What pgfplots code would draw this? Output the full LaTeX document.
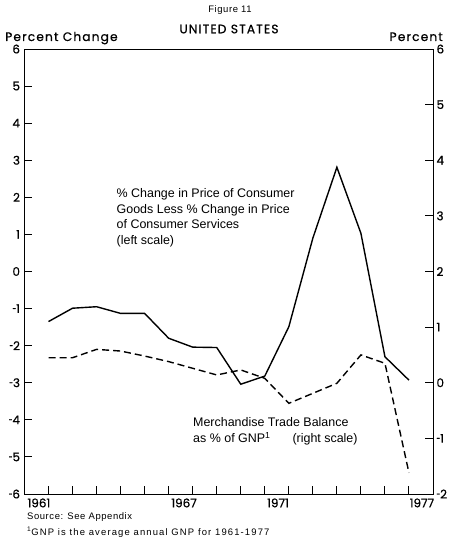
\documentclass[border=0pt]{standalone}
\usepackage{fontspec}
\setmainfont{Liberation Sans}
\newfontfamily\futura[FakeBold=0.6, LetterSpace=9]{Poppins}
\newfontfamily\futurad[FakeBold=0.6]{Poppins}
\newfontfamily\smallsans[LetterSpace=6]{Liberation Sans}
\newfontfamily\footsans[LetterSpace=12]{Liberation Sans}
\usepackage{pgfplots}
\pgfplotsset{compat=1.18}
\newcommand{\hy}{\scalebox{0.55}[1]{-}}
\begin{document}
\begin{tikzpicture}
\useasboundingbox (0bp,0bp) rectangle (450bp,543bp);
% left scale axis with solid series
\begin{axis}[
  at={(24.5bp,49bp)}, anchor=south west,
  scale only axis, width=408.5bp, height=445bp,
  xmin=1960, xmax=1977, ymin=-6, ymax=6,
  axis line style={line width=0.9bp},
  xtick={1961,...,1976}, xticklabels={},
  ytick={-6,...,6},
  yticklabels={\mbox{\hy6},\mbox{\hy5},\mbox{\hy4},\mbox{\hy3},\mbox{\hy2},\mbox{\hy1},\mbox{0},\mbox{1},\mbox{2},\mbox{3},\mbox{4},\mbox{5},\mbox{6}},
  xtick pos=bottom, ytick pos=left,
  tick align=inside,
  major tick length=8bp,
  tick style={line width=0.9bp, black},
  yticklabel style={font=\futurad\fontsize{12}{12}\selectfont, anchor=east, xshift=-1bp},
  clip=false,
]
\addplot[black, line width=1.4bp, mark=none] coordinates {
 (1961,-1.35) (1962,-0.99) (1963,-0.95) (1964,-1.13) (1965,-1.13)
 (1966,-1.80) (1967,-2.04) (1968,-2.05) (1969,-3.04) (1970,-2.82)
 (1971,-1.49) (1972,0.90) (1973,2.81) (1974,1.03) (1975,-2.30) (1976,-2.93)
};
\node[inner sep=0, font=\futurad\fontsize{12}{12}\selectfont] at (axis cs:1960.6,-6.24) {1961};
\node[inner sep=0, font=\futurad\fontsize{12}{12}\selectfont] at (axis cs:1966.64,-6.24) {1967};
\node[inner sep=0, font=\futurad\fontsize{12}{12}\selectfont] at (axis cs:1970.55,-6.24) {1971};
\node[inner sep=0, font=\futurad\fontsize{12}{12}\selectfont] at (axis cs:1976.54,-6.24) {1977};
\end{axis}
% right scale axis with dashed series
\begin{axis}[
  at={(24.5bp,49bp)}, anchor=south west,
  scale only axis, width=408.5bp, height=445bp,
  xmin=1960, xmax=1977, ymin=-2, ymax=6,
  axis x line=none, axis y line*=right,
  axis line style={line width=0.9bp},
  ytick={-2,...,6},
  yticklabels={\mbox{\hy2},\mbox{\hy1},\mbox{0},\mbox{1},\mbox{2},\mbox{3},\mbox{4},\mbox{5},\mbox{6}},
  tick align=inside,
  major tick length=8bp,
  tick style={line width=0.9bp, black},
  yticklabel style={font=\futurad\fontsize{12}{12}\selectfont, anchor=west, xshift=0bp},
  clip=false,
]
\addplot[black, line width=1.4bp, mark=none, dash pattern=on 7bp off 4bp] coordinates {
 (1961,0.45) (1962,0.45) (1963,0.60) (1964,0.57) (1965,0.48)
 (1966,0.38) (1967,0.26) (1968,0.14) (1969,0.23) (1970,0.08)
 (1971,-0.37) (1972,-0.19) (1973,-0.01) (1974,0.50) (1975,0.35) (1976,-1.62)
};
\end{axis}
% titles and labels
\node[font=\smallsans\fontsize{9.5}{10}\selectfont] at (230bp,533bp) {Figure 11};
\node[font=\futura\fontsize{12.3}{12}\selectfont] at (229bp,514bp) {UNITED STATES};
\node[font=\futura\fontsize{12.3}{12}\selectfont, anchor=base west, inner sep=0] at (5bp,502bp) {Percent Change};
\node[font=\futura\fontsize{12.3}{12}\selectfont, anchor=base east, inner sep=0] at (443bp,502bp) {Percent};
% annotations
\node[anchor=north west, align=left, inner sep=0, font=\fontsize{12.5}{15.5}\selectfont] at (116.5bp,354.5bp)
 {\% Change in Price of Consumer\\Goods Less \% Change in Price\\of Consumer Services\\(left scale)};
\node[anchor=north west, align=left, inner sep=0, font=\fontsize{12.5}{16}\selectfont] at (193bp,125.5bp)
 {Merchandise Trade Balance\\as \% of GNP\textsuperscript{1}\hspace{22bp}(right scale)};
% footnotes
\node[anchor=base west, inner sep=0, font=\smallsans\fontsize{9.5}{10}\selectfont] at (27bp,23.5bp) {Source: See Appendix};
\node[anchor=base west, inner sep=0, font=\footsans\fontsize{9.5}{10}\selectfont] at (27bp,8bp) {\textsuperscript{1}GNP is the average annual GNP for 1961-1977};
\end{tikzpicture}
\end{document}
